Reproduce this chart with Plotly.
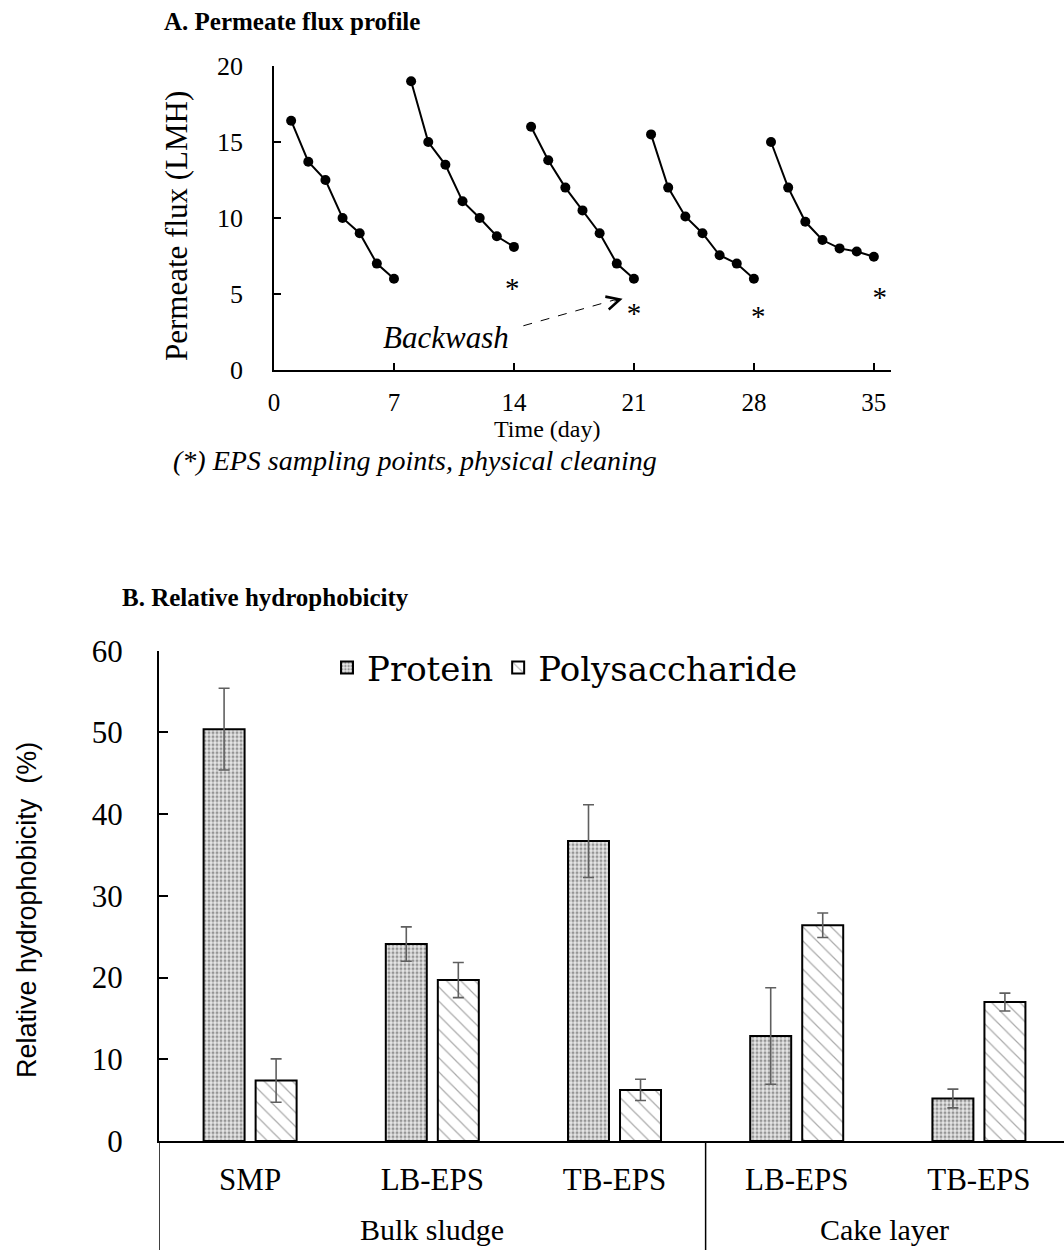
import plotly.graph_objects as go

# ---------------- Panel A data ----------------
days = list(range(1, 36))
flux = [16.4, 13.7, 12.5, 10.0, 9.0, 7.0, 6.0,
        19.0, 15.0, 13.5, 11.1, 10.0, 8.8, 8.1,
        16.0, 13.8, 12.0, 10.5, 9.0, 7.0, 6.0,
        15.5, 12.0, 10.1, 9.0, 7.55, 7.0, 6.0,
        15.0, 12.0, 9.75, 8.55, 8.0, 7.8, 7.45]
cycle_len = 7
star_days = [13.9, 21.0, 28.25, 35.35]
star_flux = [5.2, 3.55, 3.4, 4.6]
x_ticks_a = [0, 7, 14, 21, 28, 35]
y_ticks_a = [0, 5, 10, 15, 20]

# ---------------- Panel B data ----------------
categories = ["SMP", "LB-EPS", "TB-EPS", "LB-EPS", "TB-EPS"]
group_names = ["Bulk sludge", "Cake layer"]
group_sizes = [3, 2]
protein = [50.4, 24.1, 36.7, 12.85, 5.2]
protein_err = [5.0, 2.1, 4.45, 5.9, 1.15]
polysac = [7.4, 19.7, 6.25, 26.4, 17.0]
polysac_err = [2.65, 2.15, 1.3, 1.5, 1.1]
y_ticks_b = [0, 10, 20, 30, 40, 50, 60]

W, H = 1064, 1250
SERIF = "Liberation Serif"
SANS = "Liberation Sans"


def px(x):
    return x / W


def py(y):
    return 1 - y / H


fig = go.Figure()

# ---- Panel A traces ----
for c in range(len(days) // cycle_len):
    sl = slice(c * cycle_len, (c + 1) * cycle_len)
    fig.add_trace(go.Scatter(
        x=days[sl], y=flux[sl], mode="lines+markers",
        line=dict(color="black", width=2),
        marker=dict(color="black", size=10),
        showlegend=False, xaxis="x", yaxis="y", hoverinfo="skip"))

fig.add_trace(go.Scatter(
    x=star_days, y=star_flux, mode="text", text=["*"] * len(star_days),
    textfont=dict(family=SERIF, size=29, color="black"),
    textposition="middle center", showlegend=False,
    xaxis="x", yaxis="y", hoverinfo="skip"))

# ---- Panel B traces ----
xcat = list(range(len(categories)))
fig.add_trace(go.Bar(
    x=xcat, y=protein, name="Protein",
    marker=dict(color="white", line=dict(color="black", width=2),
                pattern=dict(shape=".", fgcolor="#444444", bgcolor="#e6e6e6",
                             size=4, solidity=0.45)),
    error_y=dict(type="data", array=protein_err, color="#5f5f5f",
                 thickness=1.6, width=5.5),
    xaxis="x2", yaxis="y2"))
fig.add_trace(go.Bar(
    x=xcat, y=polysac, name="Polysaccharide",
    marker=dict(color="white", line=dict(color="black", width=2),
                pattern=dict(shape="\\", fgcolor="#555555", bgcolor="white",
                             size=10, solidity=0.12)),
    error_y=dict(type="data", array=polysac_err, color="#5f5f5f",
                 thickness=1.6, width=5.5),
    xaxis="x2", yaxis="y2"))

x2_range = [-0.5, 4.467]

annotations = [
    dict(text="<b>A. Permeate flux profile</b>", x=px(162), y=py(22),
         xref="paper", yref="paper", xanchor="left", yanchor="middle",
         showarrow=False, font=dict(family=SERIF, size=25, color="black")),
    dict(text="Permeate flux (LMH)", x=px(177), y=py(226), textangle=-90,
         xref="paper", yref="paper", xanchor="center", yanchor="middle",
         showarrow=False, font=dict(family=SERIF, size=31, color="black")),
    dict(text="Time (day)", x=px(547), y=py(429),
         xref="paper", yref="paper", xanchor="center", yanchor="middle",
         showarrow=False, font=dict(family=SERIF, size=24, color="black")),
    dict(text="<i>Backwash</i>", x=px(446), y=py(338),
         xref="paper", yref="paper", xanchor="center", yanchor="middle",
         showarrow=False, font=dict(family=SERIF, size=31, color="black")),
    # arrow head of the backwash arrow
    dict(text="", x=20.34, y=4.68, xref="x", yref="y",
         ax=-9.7, ay=2.6, axref="pixel", ayref="pixel",
         showarrow=True, arrowhead=5, arrowsize=2.6, arrowwidth=1,
         arrowcolor="black", standoff=0),
    dict(text="<i>(*) EPS sampling points, physical cleaning</i>",
         x=px(415), y=py(460), xref="paper", yref="paper",
         xanchor="center", yanchor="middle", showarrow=False,
         font=dict(family=SERIF, size=28, color="black")),
    dict(text="<b>B. Relative hydrophobicity</b>", x=px(120), y=py(598),
         xref="paper", yref="paper", xanchor="left", yanchor="middle",
         showarrow=False, font=dict(family=SERIF, size=25, color="black")),
    dict(text="Relative hydrophobicity  (%)", x=px(27), y=py(910), textangle=-90,
         xref="paper", yref="paper", xanchor="center", yanchor="middle",
         showarrow=False, font=dict(family=SANS, size=27, color="black")),
]

# group labels + separators
shapes = []
start = 0
for name, n in zip(group_names, group_sizes):
    lo = max(start - 0.5, x2_range[0])
    hi = min(start + n - 0.5, x2_range[1])
    annotations.append(dict(
        text=name, x=(lo + hi) / 2, y=py(1229), xref="x2", yref="paper",
        xanchor="center", yanchor="middle", showarrow=False,
        font=dict(family=SERIF, size=30, color="black")))
    shapes.append(dict(type="line", xref="x2", yref="paper",
                       x0=start - 0.5, x1=start - 0.5, y0=0, y1=py(1141),
                       line=dict(color="black", width=1.5)))
    start += n

# dashed backwash line
shapes.append(dict(type="line", xref="x", yref="y", x0=14.55, y0=2.91,
                   x1=20.2, y1=4.72, line=dict(color="black", width=1, dash="dash")))

fig.update_layout(
    width=W, height=H, margin=dict(l=0, r=0, t=0, b=0),
    paper_bgcolor="white", plot_bgcolor="white",
    font=dict(family=SERIF, color="black"),
    showlegend=True,
    barmode="group", bargap=0.429, bargroupgap=0.212,
    legend=dict(orientation="h", x=px(327), y=py(668), xanchor="left",
                yanchor="middle", font=dict(family="DejaVu Serif", size=34),
                bgcolor="rgba(0,0,0,0)", itemsizing="constant"),
    xaxis=dict(domain=[px(274), px(891)], range=[0, 36], tickvals=x_ticks_a,
               showline=True, linecolor="black", linewidth=1.5,
               ticks="inside", ticklen=7, tickcolor="black", tickwidth=1.5,
               showgrid=False, zeroline=False, anchor="y",
               tickfont=dict(family=SERIF, size=25), ticklabelstandoff=9,
               automargin=False),
    yaxis=dict(domain=[py(370), py(66)], range=[0, 20], tickvals=y_ticks_a,
               showline=True, linecolor="black", linewidth=1.5,
               ticks="inside", ticklen=7, tickcolor="black", tickwidth=1.5,
               showgrid=False, zeroline=False, anchor="x",
               tickfont=dict(family=SERIF, size=26), ticklabelstandoff=24,
               automargin=False),
    xaxis2=dict(domain=[px(159), 1.0], range=x2_range, tickvals=xcat,
                ticktext=categories, showline=True, linecolor="black",
                linewidth=2, ticks="", showgrid=False, zeroline=False,
                anchor="y2", tickfont=dict(family=SERIF, size=31),
                ticklabelstandoff=10, automargin=False),
    yaxis2=dict(domain=[py(1141), py(650.7)], range=[0, 60], tickvals=y_ticks_b,
                showline=True, linecolor="black", linewidth=2,
                ticks="inside", ticklen=9, tickcolor="black", tickwidth=1.5,
                showgrid=False, zeroline=False, anchor="x2",
                tickfont=dict(family=SERIF, size=31), ticklabelstandoff=28,
                automargin=False),
    annotations=annotations, shapes=shapes,
)

fig.write_html("out.html")
